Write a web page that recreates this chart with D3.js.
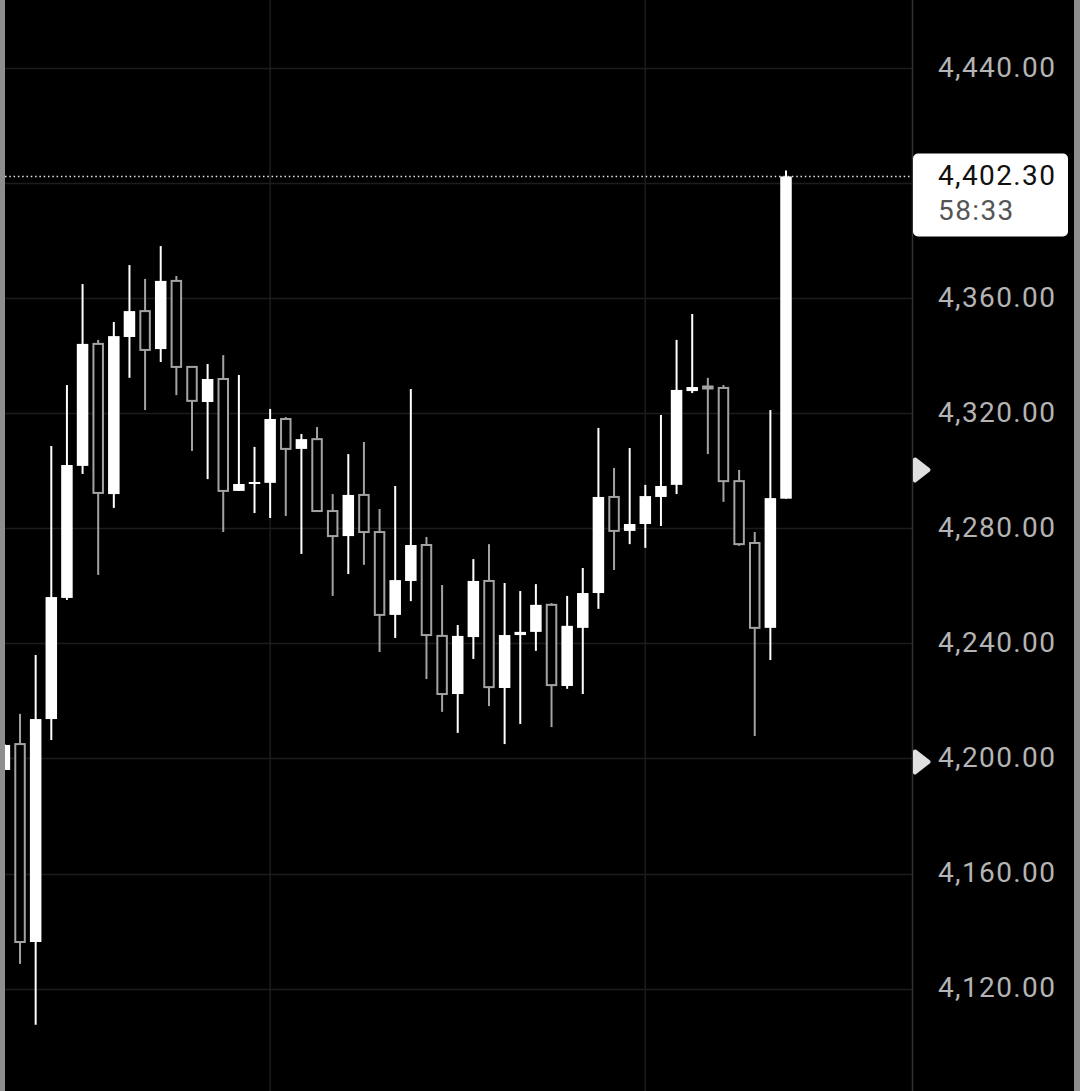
<!DOCTYPE html>
<html>
<head>
<meta charset="utf-8">
<script src="https://cdn.jsdelivr.net/npm/d3@7"></script>
<style>
  html, body { margin: 0; padding: 0; background: #000; }
  svg { display: block; }
</style>
</head>
<body>
<svg id="chart" width="1080" height="1091"></svg>
<script>
// ---- data ----
const opens  = [4196.0,4205.0,4136.2,4213.7,4255.8,4301.7,4344.1,4291.9,4346.5,4355.5,
                4342.3,4366.0,4336.1,4323.9,4331.9,4293.0,4295.7,4295.8,4318.0,4307.6,
                4311.0,4286.0,4277.3,4291.6,4278.7,4249.9,4261.7,4274.2,4242.6,4222.4,
                4242.2,4261.7,4224.5,4242.9,4244.0,4253.4,4225.2,4245.4,4257.5,4290.9,
                4279.1,4281.5,4290.9,4295.1,4327.7,4329.3,4328.8,4296.4,4274.9,4245.4,
                4290.3];
const highs  = [4205.0,4215.5,4236.0,4308.6,4329.8,4364.9,4345.5,4351.7,4371.5,4366.7,
                4378.1,4367.7,4336.1,4337.1,4340.2,4333.3,4308.3,4321.5,4318.7,4312.8,
                4315.2,4291.9,4305.8,4310.0,4286.7,4294.7,4328.4,4277.0,4260.3,4246.4,
                4269.3,4274.5,4261.0,4258.2,4260.6,4254.0,4256.5,4266.2,4314.9,4301.0,
                4307.9,4295.1,4319.4,4345.5,4354.5,4332.3,4329.8,4300.3,4278.7,4321.1,
                4404.4];
const lows   = [4196.0,4128.6,4107.4,4206.4,4255.1,4298.9,4263.8,4287.1,4332.3,4321.1,
                4337.8,4326.3,4306.9,4297.1,4278.7,4293.0,4285.3,4283.6,4284.3,4271.1,
                4286.0,4256.5,4264.1,4267.3,4237.0,4241.9,4254.7,4227.6,4216.2,4208.9,
                4234.6,4218.2,4205.0,4212.0,4237.4,4210.9,4224.2,4222.4,4252.0,4265.5,
                4274.5,4273.2,4280.8,4291.9,4327.0,4305.8,4289.2,4273.9,4207.8,4234.2,
                4290.3];
const closes = [4204.7,4136.2,4213.7,4256.1,4302.0,4344.1,4292.3,4346.8,4355.5,4342.0,
                4366.0,4336.1,4324.3,4331.9,4293.0,4295.4,4296.1,4318.0,4307.6,4311.0,
                4286.0,4277.3,4291.6,4278.7,4249.9,4262.0,4274.2,4242.9,4222.4,4242.6,
                4261.7,4224.8,4242.9,4244.0,4253.4,4225.5,4246.1,4257.5,4290.9,4279.1,
                4281.5,4291.2,4294.7,4328.1,4329.1,4329.1,4296.4,4274.5,4245.4,4290.5,
                4402.3];
const tickValues = [4080,4120,4160,4200,4240,4280,4320,4360,4400,4440];
const verticalGridIdx = [17, 41];
const markerPrices = [4300.3, 4198.8];   // arrow markers on the price scale
const lastPrice = 4402.30;
const countdown = "58:33";

// ---- layout ----
const W = 1080, H = 1091;
const plotLeft = 5, plotRight = 912;
const svg = d3.select("#chart");

const y = d3.scaleLinear().domain([4080, 4440]).range([1103.7, 68]);
const x = d3.scaleLinear().domain([0, opens.length - 1]).range([4.4, 786]);
const bodyW = 11.5;
const fmt = d3.format(",.2f");
const FONT = "Roboto, 'Noto Sans', sans-serif";
const LS = 1.4;

svg.append("rect").attr("width", W).attr("height", H).attr("fill", "#000");

svg.append("defs").append("clipPath").attr("id", "plotclip")
  .append("rect").attr("x", plotLeft).attr("y", 0).attr("width", plotRight - plotLeft).attr("height", H);

// grid
const grid = svg.append("g");
grid.selectAll("line.h").data(tickValues).join("line")
  .attr("x1", plotLeft).attr("x2", plotRight)
  .attr("y1", d => Math.round(y(d)) + 0.5).attr("y2", d => Math.round(y(d)) + 0.5)
  .attr("stroke", "#1c1c1c").attr("stroke-width", 1.5);
grid.selectAll("line.v").data(verticalGridIdx).join("line")
  .attr("x1", d => x(d)).attr("x2", d => x(d))
  .attr("y1", 0).attr("y2", H)
  .attr("stroke", "#1c1c1c").attr("stroke-width", 1.5);

// candles
const data = opens.map((o, i) => ({ i, o, h: highs[i], l: lows[i], c: closes[i], up: closes[i] >= o }));
const cg = svg.append("g").attr("clip-path", "url(#plotclip)");
const hollowCol = "#a3a3a3";

cg.selectAll("line.wick").data(data).join("line")
  .attr("x1", d => x(d.i)).attr("x2", d => x(d.i))
  .attr("y1", d => y(d.h)).attr("y2", d => y(d.l))
  .attr("stroke", d => d.up ? "#fff" : hollowCol).attr("stroke-width", 2);

cg.selectAll("rect.body").data(data).join("rect")
  .attr("x", d => x(d.i) - bodyW / 2 + (d.up ? 0 : 1))
  .attr("width", d => d.up ? bodyW : bodyW - 2)
  .attr("y", d => Math.min(y(d.o), y(d.c)))
  .attr("height", d => Math.max(2, Math.abs(y(d.o) - y(d.c))))
  .attr("fill", d => d.up ? "#fff" : "#000")
  .attr("stroke", d => d.up ? "none" : hollowCol)
  .attr("stroke-width", 2);

// last price dotted line
svg.append("line")
  .attr("x1", plotLeft).attr("x2", plotRight)
  .attr("y1", y(lastPrice)).attr("y2", y(lastPrice))
  .attr("stroke", "#e6e6e6").attr("stroke-width", 1.5)
  .attr("stroke-dasharray", "1.5,2.8");

// axis separator
svg.append("line").attr("x1", 912.5).attr("x2", 912.5).attr("y1", 0).attr("y2", H)
  .attr("stroke", "#333").attr("stroke-width", 1.5);

// axis labels
svg.append("g").selectAll("text").data(tickValues).join("text")
  .attr("x", 1055 + LS).attr("y", d => y(d) + 8.5)
  .attr("text-anchor", "end")
  .attr("font-family", FONT)
  .attr("font-size", 28)
  .attr("letter-spacing", LS)
  .attr("fill", "#b4b4b4")
  .text(d => fmt(d));

// arrow markers
svg.append("g").selectAll("path").data(markerPrices).join("path")
  .attr("d", d => {
    const cy = y(d);
    return `M915,${cy - 10.5} L928.5,${cy} L915,${cy + 10.5} Z`;
  })
  .attr("fill", "#e0e0e0").attr("stroke", "#e0e0e0")
  .attr("stroke-width", 4).attr("stroke-linejoin", "round");

// price tag
const tagY = y(lastPrice);
svg.append("rect").attr("x", 913).attr("y", tagY - 23).attr("width", 155).attr("height", 83)
  .attr("rx", 5).attr("fill", "#fff");
svg.append("text").attr("x", 1055 + LS).attr("y", tagY + 9)
  .attr("text-anchor", "end")
  .attr("font-family", FONT).attr("font-size", 28)
  .attr("letter-spacing", LS)
  .attr("fill", "#111").text(fmt(lastPrice));
svg.append("text").attr("x", 938).attr("y", tagY + 44)
  .attr("font-family", FONT).attr("font-size", 28)
  .attr("letter-spacing", LS)
  .attr("fill", "#555").text(countdown);

// frame strips
svg.append("rect").attr("x", 0).attr("y", 0).attr("width", 5).attr("height", H).attr("fill", "#8e8e8e");
svg.append("rect").attr("x", 1074).attr("y", 0).attr("width", 6).attr("height", H).attr("fill", "#8e8e8e");
</script>
</body>
</html>
